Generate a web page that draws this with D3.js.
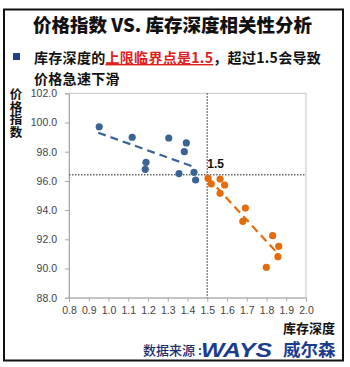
<!DOCTYPE html>
<html>
<head>
<meta charset="utf-8">
<script src="https://cdn.jsdelivr.net/npm/d3@7"></script>
<style>
  html, body { margin: 0; padding: 0; background: #fff; }
  svg { display: block; }
</style>
</head>
<body>
<svg id="chart" width="350" height="367"></svg>
<script>
// Inventory depth (x) vs. price index (y)
const blueX = [0.953, 1.12, 1.305, 1.394, 1.384, 1.19, 1.186, 1.357, 1.433, 1.441];
const blueY = [99.71, 98.99, 98.94, 98.60, 98.00, 97.27, 96.79, 96.50, 96.59, 96.06];
const orangeX = [1.504, 1.52, 1.565, 1.588, 1.565, 1.693, 1.68, 1.831, 1.862, 1.858, 1.799];
const orangeY = [96.18, 95.79, 96.13, 95.72, 95.15, 94.14, 93.23, 92.25, 91.52, 90.81, 90.08];

// Trend line end points for each group
const blueTrendX = [0.948, 1.441];
const blueTrendY = [99.30, 96.92];
const orangeTrendX = [1.504, 1.862];
const orangeTrendY = [96.20, 90.95];

// Reference lines: threshold depth and the price level it meets
const thresholdX = 1.5;
const thresholdY = 96.42;

const xTicks = [0.8, 0.9, 1.0, 1.1, 1.2, 1.3, 1.4, 1.5, 1.6, 1.7, 1.8, 1.9, 2.0];
const yTicks = [88, 90, 92, 94, 96, 98, 100, 102];

const svg = d3.select("#chart");
const blue = "#3a6496", orange = "#e46c0a";
const cjk = "'Noto Sans CJK SC', sans-serif";

// outer frame
svg.append("rect").attr("x", 4).attr("y", 9.5).attr("width", 339).attr("height", 351)
  .attr("fill", "#fff").attr("stroke", "#111").attr("stroke-width", 2);

// title
svg.append("text").attr("x", 33).attr("y", 32)
  .attr("font-family", cjk).attr("font-weight", 900)
  .attr("font-size", 18.5).attr("fill", "#111")
  .text("价格指数 VS. 库存深度相关性分析");

// bullet note (two lines)
svg.append("rect").attr("x", 13).attr("y", 53).attr("width", 7).attr("height", 7).attr("fill", "#1f3f8f");
const line1 = svg.append("text").attr("x", 34).attr("y", 63)
  .attr("font-family", cjk).attr("font-weight", 700).attr("letter-spacing", 0.3)
  .attr("font-size", 14).attr("fill", "#111");
line1.append("tspan").text("库存深度的");
line1.append("tspan").attr("fill", "#e0201b").attr("text-decoration", "underline").text("上限临界点是1.5");
line1.append("tspan").text("，超过1.5会导致");
svg.append("text").attr("x", 34).attr("y", 83.5)
  .attr("font-family", cjk).attr("font-weight", 700).attr("letter-spacing", 0.3)
  .attr("font-size", 14).attr("fill", "#111").text("价格急速下滑");

// scales
const x = d3.scaleLinear().domain([0.8, 2.0]).range([69, 306]);
const y = d3.scaleLinear().domain([88, 102]).range([297.7, 93.3]);

const plot = svg.append("g");

// plot area border
plot.append("rect").attr("x", x(0.8)).attr("y", y(102))
  .attr("width", x(2.0) - x(0.8)).attr("height", y(88) - y(102))
  .attr("fill", "none").attr("stroke", "#c8c8c8").attr("stroke-width", 1);

// axes
const xAxis = d3.axisBottom(x).tickValues(xTicks).tickSize(4).tickPadding(5)
  .tickFormat(d3.format(".1f"));
const gx = plot.append("g").attr("transform", `translate(0,${y(88)})`).call(xAxis);
const yAxis = d3.axisLeft(y).tickValues(yTicks).tickSize(4).tickPadding(8)
  .tickFormat(d3.format(".1f"));
const gy = plot.append("g").attr("transform", `translate(${x(0.8)},0)`).call(yAxis);
[gx, gy].forEach(g => {
  g.select(".domain").attr("stroke", "#aaa");
  g.selectAll(".tick line").attr("stroke", "#aaa");
  g.selectAll(".tick text").attr("fill", "#444")
    .attr("font-family", "'Liberation Sans', Arial, sans-serif").attr("font-size", 10.5);
});

// dotted reference lines
plot.append("line").attr("x1", x(thresholdX)).attr("x2", x(thresholdX))
  .attr("y1", y(102)).attr("y2", y(88))
  .attr("stroke", "#666").attr("stroke-width", 1.5).attr("stroke-dasharray", "1.5,1.5");
plot.append("line").attr("x1", x(0.8)).attr("x2", x(2.0))
  .attr("y1", y(thresholdY)).attr("y2", y(thresholdY))
  .attr("stroke", "#666").attr("stroke-width", 1.5).attr("stroke-dasharray", "1.5,1.5");

// trend lines
const trend = (xs, ys, color) => plot.append("line")
  .attr("x1", x(xs[0])).attr("y1", y(ys[0])).attr("x2", x(xs[1])).attr("y2", y(ys[1]))
  .attr("stroke", color).attr("stroke-width", 2.2).attr("stroke-dasharray", "8,5");
trend(blueTrendX, blueTrendY, blue);
trend(orangeTrendX, orangeTrendY, orange);

// points
const dots = (xs, ys, color) => plot.append("g").selectAll("circle")
  .data(xs.map((v, i) => [v, ys[i]])).join("circle")
  .attr("cx", d => x(d[0])).attr("cy", d => y(d[1])).attr("r", 3.6).attr("fill", color);
dots(blueX, blueY, blue);
dots(orangeX, orangeY, orange);

// threshold label
plot.append("text").attr("x", x(thresholdX)).attr("y", y(thresholdY) - 7)
  .attr("font-family", "'Liberation Sans', Arial, sans-serif").attr("font-weight", 700)
  .attr("font-size", 12).attr("fill", "#111").text("1.5");

// axis titles; the y title is set vertically with upright characters
svg.append("text").attr("x", 16).attr("y", 88)
  .style("writing-mode", "vertical-rl").style("text-orientation", "upright")
  .attr("font-family", cjk).attr("font-weight", 700)
  .attr("font-size", 12.5).attr("fill", "#111").text("价格指数");
svg.append("text").attr("x", 335).attr("y", 333).attr("text-anchor", "end")
  .attr("font-family", cjk).attr("font-weight", 700)
  .attr("font-size", 13).attr("fill", "#111").text("库存深度");

// source line
svg.append("text").attr("x", 143).attr("y", 355)
  .attr("font-family", cjk).attr("font-weight", 500)
  .attr("font-size", 13).attr("fill", "#1c2f6b").text("数据来源 :");
svg.append("text").attr("x", 201).attr("y", 357)
  .attr("font-family", "'Liberation Sans', Arial, sans-serif").attr("font-weight", 900)
  .attr("font-style", "italic").attr("font-size", 21).attr("fill", "#1b3c8e")
  .attr("textLength", 71).attr("lengthAdjust", "spacingAndGlyphs").text("WAYS");
svg.append("text").attr("x", 283).attr("y", 356)
  .attr("font-family", cjk).attr("font-weight", 700)
  .attr("font-size", 17.5).attr("fill", "#1b3c8e").text("威尔森");
</script>
</body>
</html>
